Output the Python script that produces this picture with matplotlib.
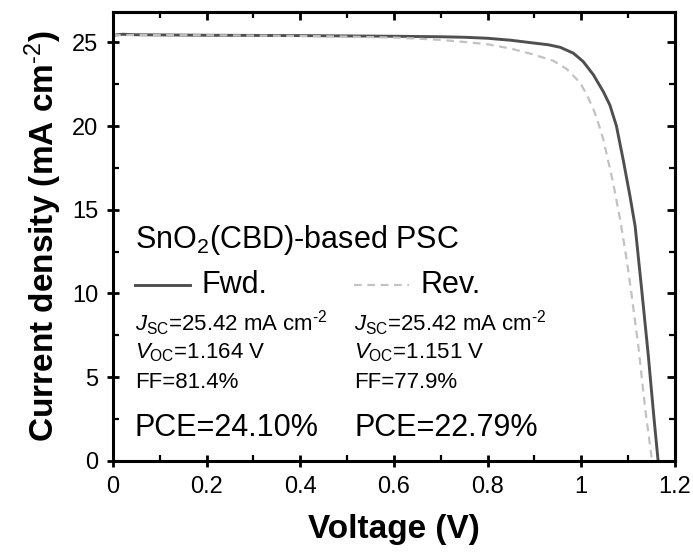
import numpy as np
import matplotlib
matplotlib.use('Agg')
import matplotlib.pyplot as plt

plt.rcParams['font.family'] = ['Liberation Sans', 'DejaVu Sans']
plt.rcParams['mathtext.fontset'] = 'custom'
plt.rcParams['mathtext.rm'] = 'Liberation Sans'
plt.rcParams['mathtext.it'] = 'Liberation Sans:italic'
plt.rcParams['mathtext.bf'] = 'Liberation Sans:bold'

# Curva J-V, barrido directo (Fwd.)
v_fwd = [0.00, 0.02, 0.05, 0.10, 0.15, 0.20, 0.30, 0.40, 0.50, 0.60, 0.70, 0.75,
         0.80, 0.85, 0.90, 0.93, 0.955, 0.983, 1.004, 1.026, 1.047, 1.061, 1.075,
         1.090, 1.104, 1.115, 1.122, 1.129, 1.143, 1.155, 1.164]
j_fwd = [25.42, 25.48, 25.45, 25.44, 25.43, 25.42, 25.41, 25.40, 25.38, 25.36, 25.33, 25.30,
         25.24, 25.12, 24.95, 24.85, 24.70, 24.35, 23.85, 23.05, 22.05, 21.25, 20.00,
         17.90, 15.80, 14.00, 12.10, 10.20, 6.30, 2.60, 0.0]

# Curva J-V, barrido inverso (Rev.)
v_rev = [0.00, 0.05, 0.10, 0.20, 0.30, 0.40, 0.50, 0.60, 0.65, 0.70, 0.75, 0.80,
         0.85, 0.894, 0.94, 0.969, 0.997, 1.011, 1.026, 1.036, 1.047, 1.068, 1.083,
         1.097, 1.107, 1.122, 1.136, 1.151]
j_rev = [25.42, 25.44, 25.43, 25.42, 25.40, 25.38, 25.34, 25.28, 25.22, 25.14, 25.02, 24.88,
         24.62, 24.30, 23.90, 23.40, 22.60, 21.90, 21.00, 20.20, 19.20, 16.60, 14.40,
         12.00, 10.00, 6.80, 3.20, 0.0]

# Parametros fotovoltaicos
etiquetas = ['Fwd.', 'Rev.']
jsc = [25.42, 25.42]
voc = [1.164, 1.151]
ff = [81.4, 77.9]
pce = [24.10, 22.79]

fig = plt.figure(figsize=(6.93, 5.52), dpi=100)
ax = fig.add_axes([0.163, 0.165, 0.811, 0.813])

ax.plot(v_fwd, j_fwd, color='#4f4f4f', lw=2.1, solid_joinstyle='round')
ax.plot(v_rev, j_rev, color='#c2c2c2', lw=1.6, dashes=(3.5, 2.5))

ax.set_xlim(0, 1.2)
ax.set_ylim(0, 26.8)
ax.set_xticks(np.arange(0, 1.21, 0.2))
ax.set_xticklabels(['0', '0.2', '0.4', '0.6', '0.8', '1', '1.2'])
ax.set_yticks(np.arange(0, 26, 5))
ax.set_xticks(np.arange(0.1, 1.2, 0.2), minor=True)
ax.set_yticks(np.arange(2.5, 26, 5), minor=True)

for s in ax.spines.values():
    s.set_linewidth(2.2)
ax.tick_params(which='major', direction='inout', length=9, width=2, labelsize=17, pad=6)
ax.tick_params(which='minor', direction='in', length=4, width=1.6)

# Marcas en los lados superior y derecho
top = ax.secondary_xaxis('top')
top.set_xticks(np.arange(0, 1.21, 0.2))
top.set_xticks(np.arange(0.1, 1.2, 0.2), minor=True)
top.tick_params(which='major', direction='in', length=6, width=2, labeltop=False)
top.tick_params(which='minor', direction='in', length=4, width=1.6)
top.spines['top'].set_linewidth(2.2)
right = ax.secondary_yaxis('right')
right.set_yticks(np.arange(0, 26, 5))
right.set_yticks(np.arange(2.5, 26, 5), minor=True)
right.tick_params(which='major', direction='in', length=6, width=2, labelright=False)
right.tick_params(which='minor', direction='in', length=4, width=1.6)
right.spines['right'].set_linewidth(2.2)

ax.set_xlabel('Voltage (V)', fontsize=24, fontweight='bold', labelpad=12)
ax.set_ylabel(r'Current density (mA cm$^{\mathbf{\text{-2}}}$)', fontsize=24,
              fontweight='bold', labelpad=6)

# Anotaciones
tr = ax.transAxes
ax.text(0.039, 0.492, r'SnO$_2$(CBD)-based PSC', transform=tr, fontsize=22, va='center')
estilos = [dict(color='#4f4f4f', lw=2.1), dict(color='#c2c2c2', lw=1.6, dashes=(3.5, 2.5))]
x0 = [0.039, 0.429]
for i in range(2):
    ax.plot([x0[i], x0[i] + 0.098], [0.392, 0.392], transform=tr, **estilos[i])
    ax.text(x0[i] + 0.118, 0.392, etiquetas[i], transform=tr, fontsize=22, va='center')
    ax.text(x0[i], 0.307, r'$J_{\mathrm{SC}}$=%.2f mA cm$^{\text{-2}}$' % jsc[i], transform=tr,
            fontsize=16, va='center')
    ax.text(x0[i], 0.241, r'$V_{\mathrm{OC}}$=%.3f V' % voc[i], transform=tr,
            fontsize=16, va='center')
    ax.text(x0[i], 0.174, 'FF=%.1f%%' % ff[i], transform=tr, fontsize=16, va='center')
    ax.text(x0[i], 0.073, 'PCE=%.2f%%' % pce[i], transform=tr, fontsize=22, va='center')

fig.savefig('out.png', dpi=100)
